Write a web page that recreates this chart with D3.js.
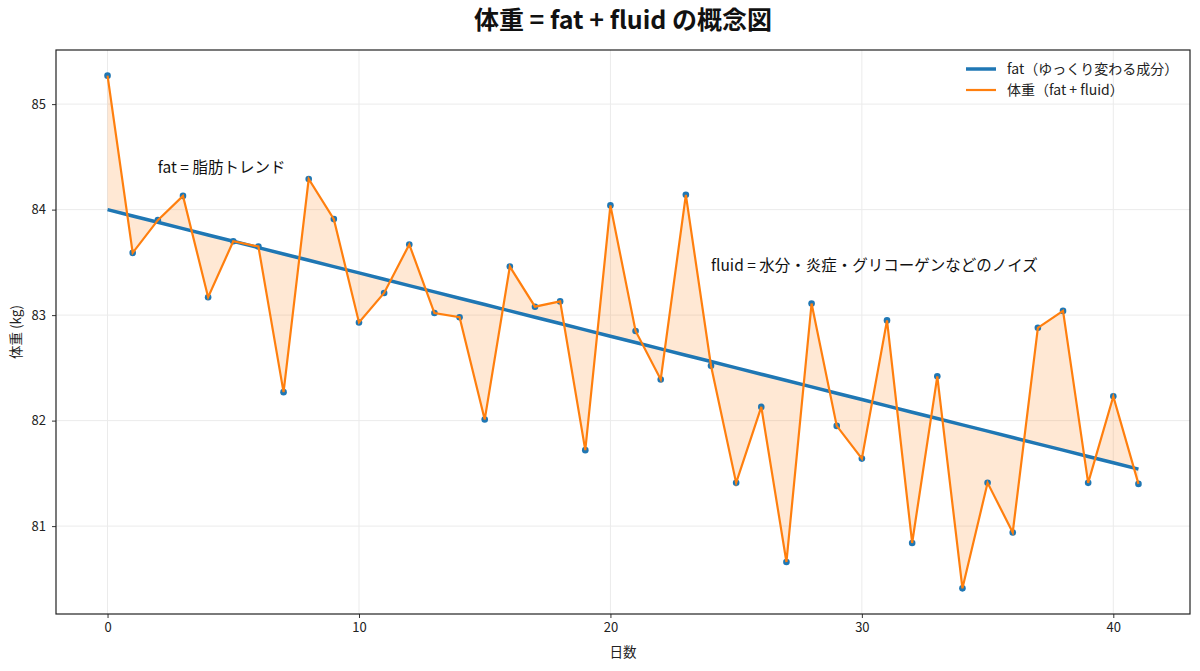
<!DOCTYPE html>
<html>
<head>
<meta charset="utf-8">
<script src="https://cdn.jsdelivr.net/npm/d3@7"></script>
<style>
  body { margin: 0; background: #fff; }
  svg { font-family: "Noto Sans CJK JP", "Noto Sans", sans-serif; }
  .tick text { font-family: "Noto Sans CJK JP", "Noto Sans", sans-serif; font-size: 13px; fill: #222; }
</style>
</head>
<body>
<div class="chart"></div>
<script>
// 日数
var days = d3.range(0, 42);
// fat トレンド (直線)
var fatStart = 84.0, fatEnd = 81.54;
// 体重 = fat + fluid (picture read)
var weight = [85.27, 83.59, 83.90, 84.13, 83.17, 83.70, 83.65, 82.27, 84.29, 83.91,
              82.93, 83.21, 83.67, 83.02, 82.98, 82.01, 83.46, 83.08, 83.13, 81.72,
              84.04, 82.85, 82.39, 84.14, 82.52, 81.41, 82.13, 80.66, 83.11, 81.95,
              81.64, 82.95, 80.84, 82.42, 80.41, 81.41, 80.94, 82.88, 83.04, 81.41,
              82.23, 81.40];
var xTicks = [0, 10, 20, 30, 40];
var yTicks = [81, 82, 83, 84, 85];
var legendLabels = ["fat（ゆっくり変わる成分）", "体重（fat + fluid）"];

var width = 1200, height = 671;
var margin = {top: 50, right: 10, bottom: 57, left: 56};

var fat = days.map(function(d) {
    return fatStart + (fatEnd - fatStart) * d / (days.length - 1);
});

var svg = d3.select("div.chart").append("svg")
    .attr("width", width)
    .attr("height", height);

var xExt = d3.extent(days), xPad = (xExt[1] - xExt[0]) * 0.05;
var yExt = d3.extent(weight.concat(fat)), yPad = (yExt[1] - yExt[0]) * 0.05;

var x = d3.scaleLinear()
    .domain([xExt[0] - xPad, xExt[1] + xPad])
    .range([margin.left, width - margin.right]);
var y = d3.scaleLinear()
    .domain([yExt[0] - yPad, yExt[1] + yPad])
    .range([height - margin.bottom, margin.top]);

// grid
svg.append("g").selectAll("line.gx").data(xTicks).enter().append("line")
    .attr("x1", d => x(d)).attr("x2", d => x(d))
    .attr("y1", margin.top).attr("y2", height - margin.bottom)
    .attr("stroke", "#ebebeb").attr("stroke-width", 1);
svg.append("g").selectAll("line.gy").data(yTicks).enter().append("line")
    .attr("y1", d => y(d)).attr("y2", d => y(d))
    .attr("x1", margin.left).attr("x2", width - margin.right)
    .attr("stroke", "#ebebeb").attr("stroke-width", 1);

// fill between fat and weight
var area = d3.area()
    .x((d, i) => x(days[i]))
    .y0((d, i) => y(fat[i]))
    .y1(d => y(d));
svg.append("path")
    .attr("d", area(weight))
    .attr("fill", "#ff7f0e")
    .attr("fill-opacity", 0.18);

// fat line
var line = d3.line().x((d, i) => x(days[i])).y(d => y(d));
svg.append("path")
    .attr("d", line(fat))
    .attr("fill", "none")
    .attr("stroke", "#1f77b4")
    .attr("stroke-width", 3.5);

// points
svg.append("g").selectAll("circle").data(weight).enter().append("circle")
    .attr("cx", (d, i) => x(days[i]))
    .attr("cy", d => y(d))
    .attr("r", 3.3)
    .attr("fill", "#1f77b4");

// weight line
svg.append("path")
    .attr("d", line(weight))
    .attr("fill", "none")
    .attr("stroke", "#ff7f0e")
    .attr("stroke-width", 2.2);

// axes
var xAxis = svg.append("g")
    .attr("transform", "translate(0," + (height - margin.bottom) + ")")
    .call(d3.axisBottom(x).tickValues(xTicks).tickFormat(d3.format("d"))
        .tickSize(4).tickPadding(5).tickSizeOuter(0));
var yAxis = svg.append("g")
    .attr("transform", "translate(" + margin.left + ",0)")
    .call(d3.axisLeft(y).tickValues(yTicks).tickFormat(d3.format("d"))
        .tickSize(4).tickPadding(6).tickSizeOuter(0));
[xAxis, yAxis].forEach(function(a) {
    a.attr("font-family", null);
    a.select(".domain").remove();
    a.selectAll(".tick line").attr("stroke", "#333");
});

// frame
svg.append("rect")
    .attr("x", margin.left).attr("y", margin.top)
    .attr("width", width - margin.left - margin.right)
    .attr("height", height - margin.top - margin.bottom)
    .attr("fill", "none")
    .attr("stroke", "#222")
    .attr("stroke-width", 1.2);

// labels
svg.append("text")
    .attr("x", (margin.left + width - margin.right) / 2)
    .attr("y", 29)
    .attr("text-anchor", "middle")
    .attr("font-size", 25)
    .attr("font-weight", "bold")
    .attr("fill", "#111")
    .text("体重 = fat + fluid の概念図");
svg.append("text")
    .attr("x", (margin.left + width - margin.right) / 2)
    .attr("y", height - 14)
    .attr("text-anchor", "middle")
    .attr("font-size", 13.5)
    .attr("fill", "#222")
    .text("日数");
svg.append("text")
    .attr("transform", "translate(21," + ((margin.top + height - margin.bottom) / 2) + ") rotate(-90)")
    .attr("text-anchor", "middle")
    .attr("font-size", 13.5)
    .attr("fill", "#222")
    .text("体重 (kg)");

// annotations
svg.append("text")
    .attr("x", x(2)).attr("y", y(84.35))
    .attr("font-size", 15.5).attr("fill", "#111")
    .text("fat = 脂肪トレンド");
svg.append("text")
    .attr("x", x(24)).attr("y", y(83.42))
    .attr("font-size", 15.5).attr("fill", "#111")
    .text("fluid = 水分・炎症・グリコーゲンなどのノイズ");

// legend
var legend = svg.append("g").attr("transform", "translate(966,69)");
var legendColors = ["#1f77b4", "#ff7f0e"];
var legendWidths = [3.5, 2.2];
legendLabels.forEach(function(t, i) {
    var g = legend.append("g").attr("transform", "translate(0," + (i * 21) + ")");
    g.append("line").attr("x1", 0).attr("x2", 30)
        .attr("stroke", legendColors[i]).attr("stroke-width", legendWidths[i]);
    g.append("text").attr("x", 41).attr("y", 5)
        .attr("font-size", 14).attr("fill", "#222")
        .text(t);
});
</script>
</body>
</html>
